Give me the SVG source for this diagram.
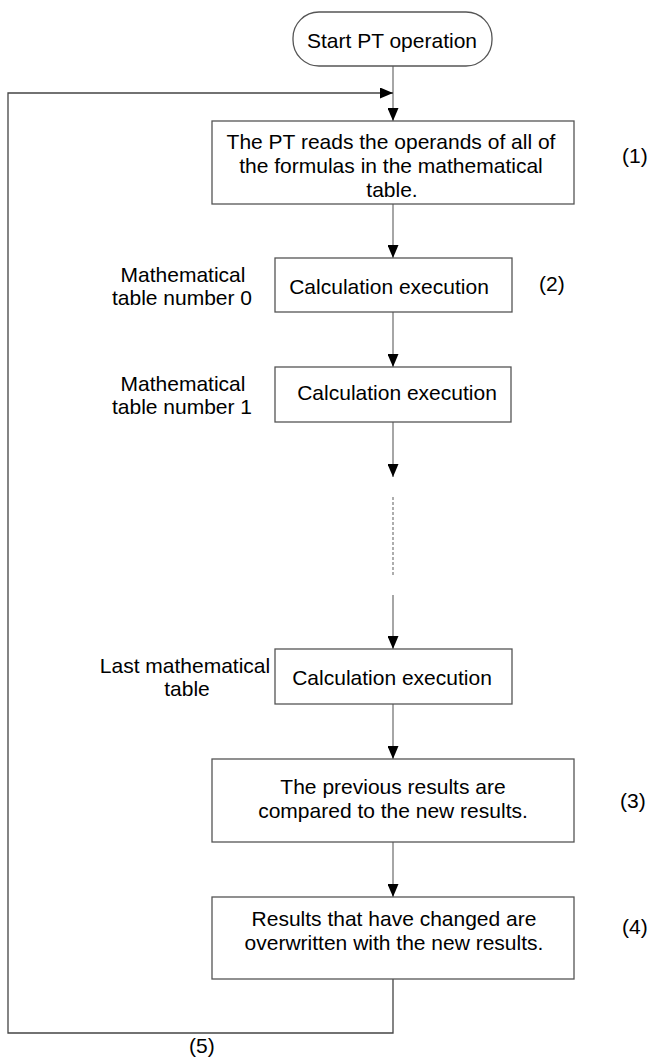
<svg xmlns="http://www.w3.org/2000/svg" width="650" height="1057" viewBox="0 0 650 1057">
<style>
text{font-family:"Liberation Sans",Arial,sans-serif;font-size:21px;fill:#000}
.c{text-anchor:middle}
.box{fill:#fff;stroke:#555;stroke-width:1.3}
.ln{fill:none;stroke:#888;stroke-width:1.5}
.loop{fill:none;stroke:#444;stroke-width:1.3}
.dash{fill:none;stroke:#999;stroke-width:1.6;stroke-dasharray:3 2}
</style>
<defs>
<marker id="ah" viewBox="0 0 13 11" refX="13" refY="5.5" markerWidth="13" markerHeight="11" markerUnits="userSpaceOnUse" orient="auto">
<path d="M0,0 L13,5.5 L0,11 Z" fill="#000"/>
</marker>
</defs>
<g id="connectors">
<line class="ln" x1="393" y1="66" x2="393" y2="121" marker-end="url(#ah)"/>
<polyline class="loop" points="393,979 393,1033 8,1033 8,93 393,93" marker-end="url(#ah)"/>
<line class="ln" x1="393" y1="204" x2="393" y2="258" marker-end="url(#ah)"/>
<line class="ln" x1="393" y1="312" x2="393" y2="367" marker-end="url(#ah)"/>
<line class="ln" x1="393" y1="422" x2="393" y2="477" marker-end="url(#ah)"/>
<line class="dash" x1="393" y1="497" x2="393" y2="577"/>
<line class="ln" x1="393" y1="595" x2="393" y2="649" marker-end="url(#ah)"/>
<line class="ln" x1="393" y1="704" x2="393" y2="759" marker-end="url(#ah)"/>
<line class="ln" x1="393" y1="842" x2="393" y2="897" marker-end="url(#ah)"/>
</g>
<g id="start">
<rect class="box" x="293" y="12" width="199" height="54" rx="26" ry="26"/>
<text class="c" x="392" y="48">Start PT operation</text>
</g>
<g id="read">
<rect class="box" x="212" y="121" width="362" height="83"/>
<text class="c" x="391" y="149">The PT reads the operands of all of</text>
<text class="c" x="391" y="173">the formulas in the mathematical</text>
<text class="c" x="392" y="197">table.</text>
<text x="622" y="163">(1)</text>
</g>
<g id="calc0">
<rect class="box" x="275" y="258" width="237" height="54"/>
<text class="c" x="389" y="294">Calculation execution</text>
<text class="c" x="183" y="282">Mathematical</text>
<text class="c" x="182" y="305">table number 0</text>
<text x="539" y="291">(2)</text>
</g>
<g id="calc1">
<rect class="box" x="275" y="367" width="236" height="55"/>
<text class="c" x="397" y="400">Calculation execution</text>
<text class="c" x="183" y="391">Mathematical</text>
<text class="c" x="182" y="414">table number 1</text>
</g>
<g id="calcLast">
<rect class="box" x="275" y="649" width="237" height="55"/>
<text class="c" x="392" y="685">Calculation execution</text>
<text class="c" x="185" y="673">Last mathematical</text>
<text class="c" x="187" y="696">table</text>
</g>
<g id="compare">
<rect class="box" x="212" y="759" width="362" height="83"/>
<text class="c" x="393" y="794">The previous results are</text>
<text class="c" x="393" y="818">compared to the new results.</text>
<text x="620" y="808">(3)</text>
</g>
<g id="overwrite">
<rect class="box" x="212" y="897" width="362" height="82"/>
<text class="c" x="394" y="926">Results that have changed are</text>
<text class="c" x="394" y="950">overwritten with the new results.</text>
<text x="622" y="934">(4)</text>
</g>
<g id="label5">
<text x="189" y="1053">(5)</text>
</g>
</svg>
